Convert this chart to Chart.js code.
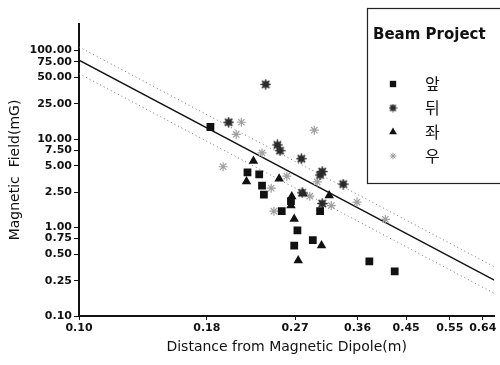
<!DOCTYPE html>
<html>
<head>
<meta charset="utf-8">
<script src="https://cdn.jsdelivr.net/npm/chart.js@4"></script>
<style>
  html, body { margin: 0; padding: 0; background: #fff; }
  #wrap { width: 500px; height: 365px; }
</style>
</head>
<body>
<div id="wrap"><canvas id="chart" width="500" height="365"></canvas></div>
<script>
const xTicks = [0.10, 0.18, 0.27, 0.36, 0.45, 0.55, 0.64];
const yTicks = [0.1, 0.25, 0.5, 0.75, 1, 2.5, 5, 7.5, 10, 25, 50, 75, 100];

// 앞
const frontDist = [0.183, 0.217, 0.229, 0.232, 0.234, 0.254, 0.265, 0.273, 0.269, 0.293, 0.303, 0.380, 0.427];
const frontField = [13.7, 4.2, 4.0, 2.97, 2.36, 1.53, 1.99, 0.93, 0.625, 0.72, 1.53, 0.415, 0.32];
// 뒤
const backDist = [0.236, 0.199, 0.249, 0.252, 0.278, 0.306, 0.303, 0.337, 0.279, 0.306];
const backField = [41.6, 15.5, 8.6, 7.4, 6.0, 4.3, 3.93, 3.1, 2.47, 1.87];
// 좌
const leftDist = [0.223, 0.216, 0.251, 0.266, 0.265, 0.269, 0.274, 0.305, 0.316, 0.280];
const leftField = [5.64, 3.32, 3.57, 2.24, 1.77, 1.25, 0.423, 0.625, 2.30, 2.43];
// 우
const rightDist = [0.211, 0.206, 0.295, 0.232, 0.194, 0.260, 0.299, 0.242, 0.289, 0.245, 0.319, 0.359, 0.409];
const rightField = [15.5, 11.3, 12.6, 6.98, 4.87, 3.81, 3.28, 2.79, 2.26, 1.53, 1.77, 1.94, 1.24];

// fit line and band end points
const fitDist = [0.10, 0.675];
const fitField = [78, 0.254];
const upperField = [110, 0.36];
const lowerField = [55, 0.18];

const toPoints = (xs, ys) => xs.map((x, i) => ({ x, y: ys[i] }));

// dark spiky blob used for 뒤
const makeBackMarker = (r) => {
  const c = document.createElement('canvas');
  const s = Math.ceil(r * 2 + 2);
  c.width = s; c.height = s;
  const g = c.getContext('2d');
  const m = s / 2;
  g.fillStyle = '#2b2b2b';
  g.strokeStyle = '#2b2b2b';
  g.beginPath(); g.arc(m, m, r * 0.72, 0, Math.PI * 2); g.fill();
  g.lineWidth = 1.6;
  g.lineCap = 'round';
  for (let k = 0; k < 4; k++) {
    const a = k * Math.PI / 4;
    g.beginPath();
    g.moveTo(m - Math.cos(a) * r, m - Math.sin(a) * r);
    g.lineTo(m + Math.cos(a) * r, m + Math.sin(a) * r);
    g.stroke();
  }
  return c;
};

const backMarker = makeBackMarker(4.5);
const backMarkerSmall = makeBackMarker(3.3);

const legendItems = [
  { label: '앞', style: 'rect', color: '#111', radius: 4.5 },
  { label: '뒤', style: backMarkerSmall, color: '#2b2b2b', radius: 3.3 },
  { label: '좌', style: 'triangle', color: '#111', radius: 4.5 },
  { label: '우', style: 'star', color: '#9a9a9a', radius: 3.3, stroke: true },
];

const legendBox = {
  id: 'legendBox',
  afterDraw(chart) {
    const ctx = chart.ctx;
    ctx.save();
    ctx.fillStyle = '#fff';
    ctx.fillRect(367, 8, 140, 175);
    ctx.strokeStyle = '#222';
    ctx.lineWidth = 1.2;
    ctx.strokeRect(367.5, 8.5, 140, 175);
    ctx.fillStyle = '#111';
    ctx.font = 'bold 15px "DejaVu Sans"';
    ctx.textBaseline = 'middle';
    ctx.fillText('Beam Project', 373, 35);
    ctx.font = '16px "Noto Sans CJK KR"';
    legendItems.forEach((item, i) => {
      const y = 84 + i * 24;
      ctx.fillStyle = item.color;
      ctx.strokeStyle = item.color;
      ctx.lineWidth = item.stroke ? 1 : 0;
      Chart.helpers.drawPoint(ctx, { pointStyle: item.style, radius: item.radius, rotation: 0, borderWidth: item.stroke ? 1 : 0 }, 393, y);
      ctx.fillStyle = '#111';
      ctx.fillText(item.label, 425, y);
    });
    ctx.restore();
  },
};

const tickFont = { family: '"DejaVu Sans"', size: 11, weight: 'bold' };
const titleFont = { family: '"DejaVu Sans"', size: 14 };

new Chart(document.getElementById('chart').getContext('2d'), {
  type: 'scatter',
  data: {
    datasets: [
      {
        label: '앞',
        data: toPoints(frontDist, frontField),
        pointStyle: 'rect',
        radius: 5.5,
        backgroundColor: '#111',
        borderColor: '#111',
        borderWidth: 0,
      },
      {
        label: '뒤',
        data: toPoints(backDist, backField),
        pointStyle: backMarker,
        radius: 4.5,
      },
      {
        label: '좌',
        data: toPoints(leftDist, leftField),
        pointStyle: 'triangle',
        radius: 5.5,
        backgroundColor: '#111',
        borderColor: '#111',
        borderWidth: 0,
      },
      {
        label: '우',
        data: toPoints(rightDist, rightField),
        pointStyle: 'star',
        radius: 4.5,
        backgroundColor: '#a0a0a0',
        borderColor: '#a0a0a0',
        borderWidth: 1.2,
      },
      {
        label: 'fit',
        type: 'line',
        data: toPoints(fitDist, fitField),
        borderColor: '#111',
        borderWidth: 1.3,
        pointRadius: 0,
      },
      {
        label: 'upper',
        type: 'line',
        data: toPoints(fitDist, upperField),
        borderColor: '#777',
        borderWidth: 1,
        borderDash: [1, 3],
        pointRadius: 0,
      },
      {
        label: 'lower',
        type: 'line',
        data: toPoints(fitDist, lowerField),
        borderColor: '#777',
        borderWidth: 1,
        borderDash: [1, 3],
        pointRadius: 0,
      },
    ],
  },
  options: {
    responsive: false,
    animation: false,
    devicePixelRatio: 1,
    layout: { padding: { top: 24, right: 0, left: 0, bottom: 0 } },
    plugins: { legend: { display: false }, tooltip: { enabled: false } },
    scales: {
      x: {
        type: 'logarithmic',
        min: 0.1,
        max: 0.675,
        afterBuildTicks: (axis) => { axis.ticks = xTicks.map((v) => ({ value: v })); },
        afterFit: (axis) => { axis.height = 49; },
        ticks: {
          color: '#111',
          font: tickFont,
          padding: 2,
          autoSkip: false,
          maxRotation: 0,
          callback: (v) => Number(v).toFixed(2),
        },
        grid: { display: true, drawOnChartArea: false, drawTicks: true, tickLength: 4, color: '#111', lineWidth: 1 },
        border: { display: true, color: '#111', width: 2 },
        title: { display: true, text: 'Distance from Magnetic Dipole(m)', color: '#111', font: titleFont, padding: { top: 0, bottom: 9 } },
      },
      y: {
        type: 'logarithmic',
        min: 0.1,
        max: 200,
        afterBuildTicks: (axis) => { axis.ticks = yTicks.map((v) => ({ value: v })); },
        afterFit: (axis) => { axis.width = 79; },
        ticks: {
          color: '#111',
          font: tickFont,
          padding: 2,
          autoSkip: false,
          callback: (v) => Number(v).toFixed(2),
        },
        grid: { display: true, drawOnChartArea: false, drawTicks: true, tickLength: 5, color: '#111', lineWidth: 1 },
        border: { display: true, color: '#111', width: 2 },
        title: { display: true, text: 'Magnetic  Field(mG)', color: '#111', font: titleFont, padding: { top: 7, bottom: 0 } },
      },
    },
  },
  plugins: [legendBox],
});
</script>
</body>
</html>
